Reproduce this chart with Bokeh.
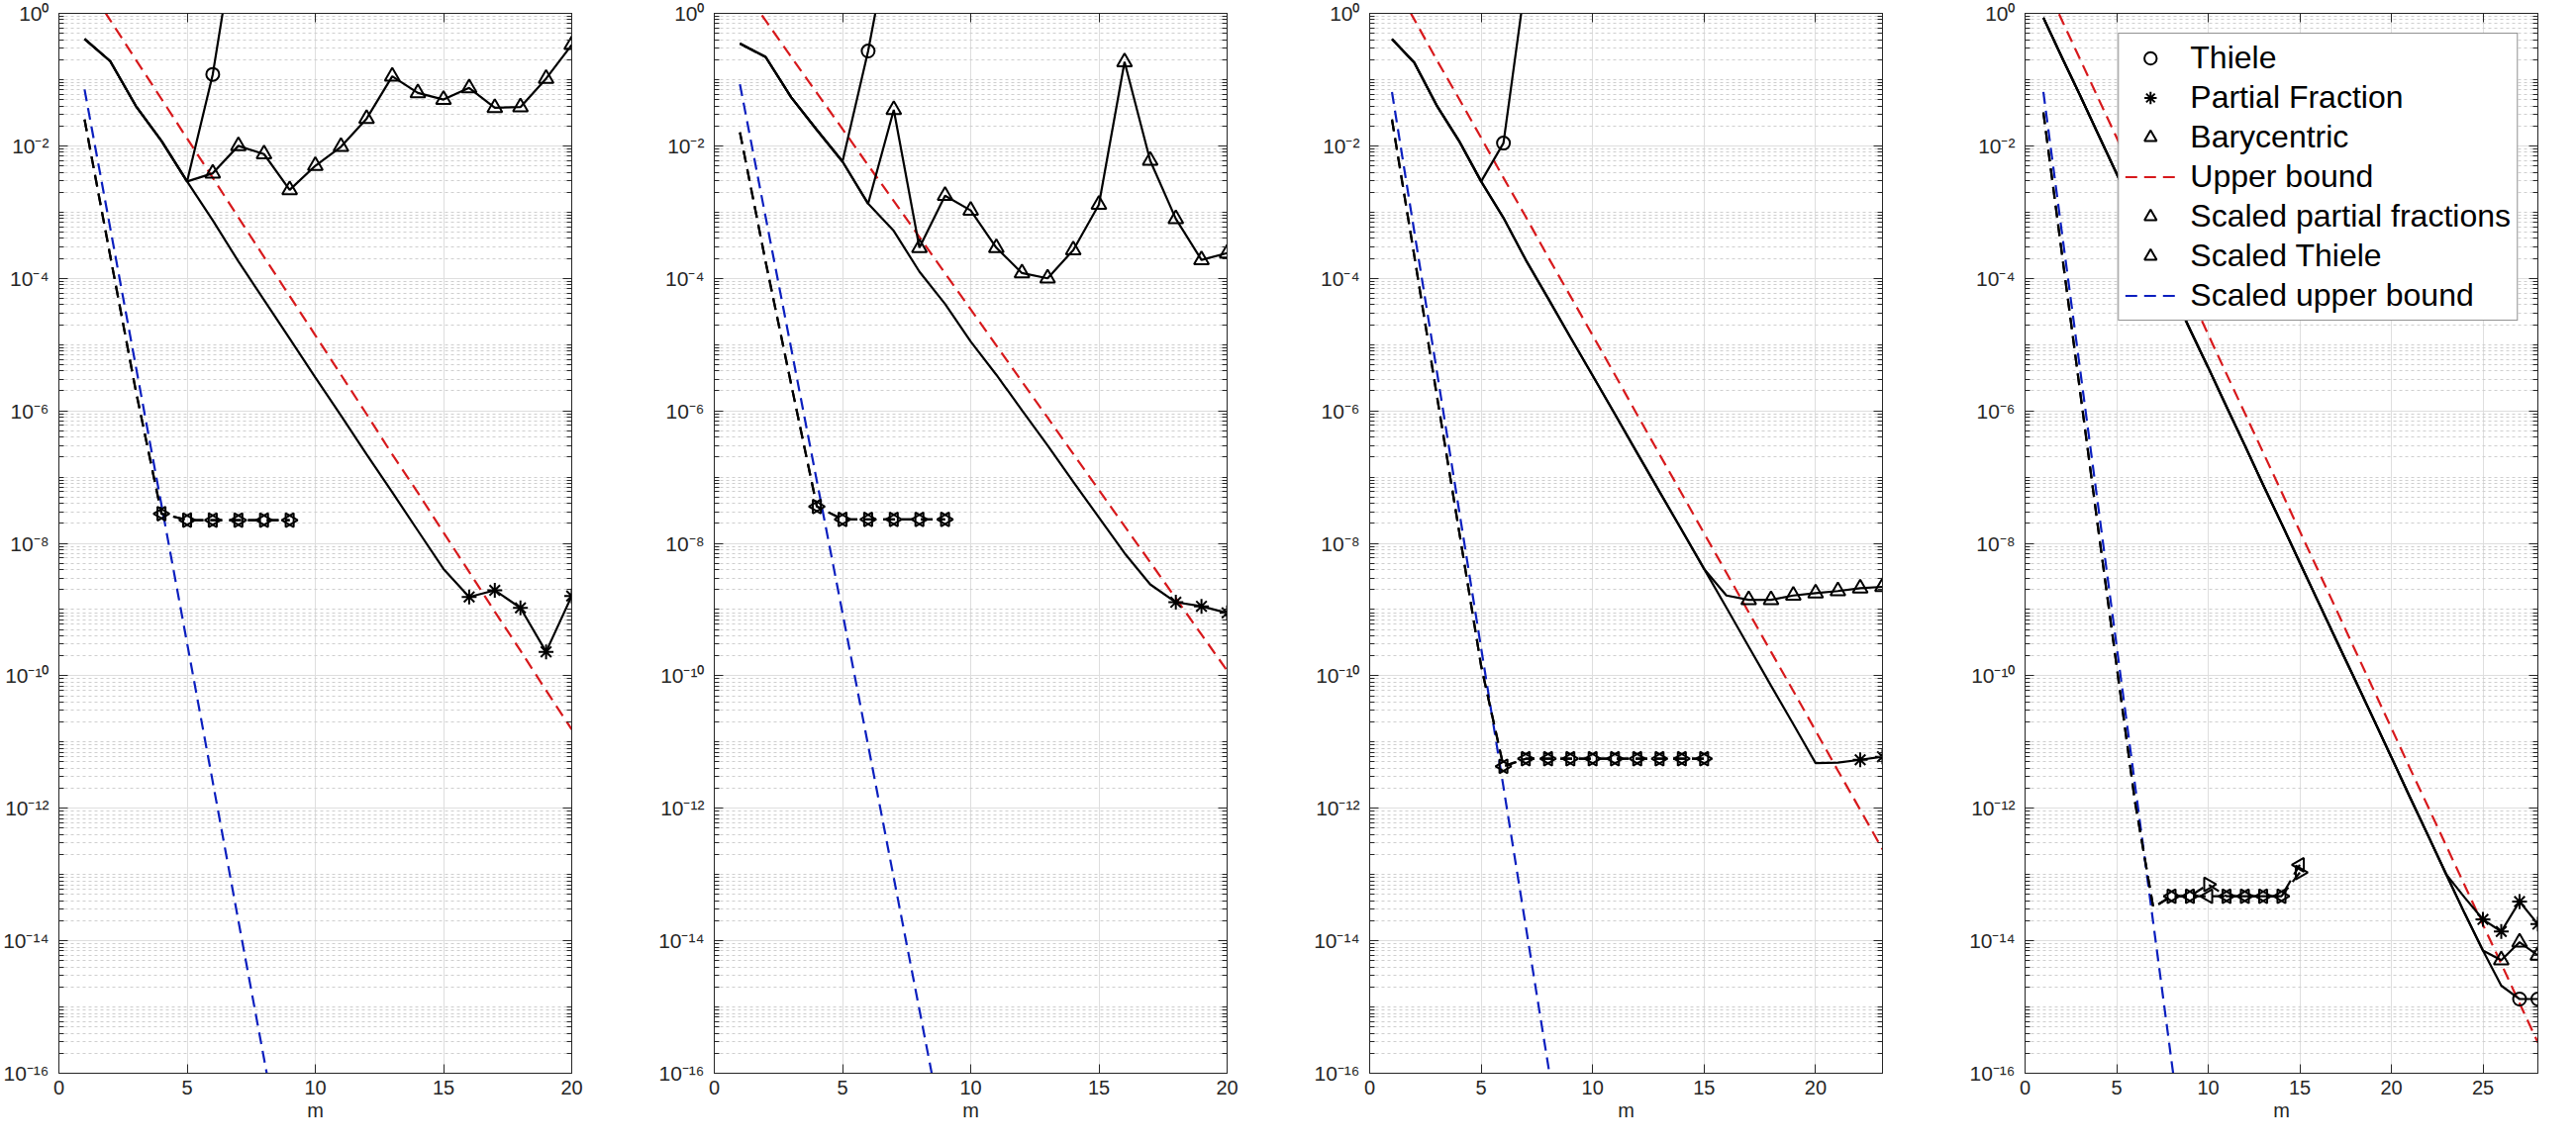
import math
from bokeh.plotting import figure
from bokeh.models import (FixedTicker, LogAxis, LinearAxis, CustomJSTickFormatter,
                          Legend, LegendItem, Range1d)
from bokeh.layouts import row
from bokeh.embed import file_html
from bokeh.resources import INLINE

# ---------------- data ----------------
# Panel 1
p1_m = list(range(1, 21))
p1_pf = [0.41, 0.19, 4.0e-2, 1.19e-2, 2.9e-3, 7.5e-4, 1.8e-4, 4.7e-5, 1.23e-5, 3.2e-6,
         8.5e-7, 2.2e-7, 5.9e-8, 1.55e-8, 4.1e-9, 1.55e-9, 1.95e-9, 1.06e-9, 2.3e-10, 1.6e-9]
p1_bary = [0.41, 0.19, 4.0e-2, 1.19e-2, 2.9e-3, 3.85e-3, 1.0e-2, 7.5e-3, 2.16e-3, 5.0e-3,
           9.7e-3, 2.57e-2, 0.112, 6.3e-2, 5.0e-2, 7.5e-2, 3.76e-2, 3.85e-2, 0.1035, 0.335]
p1_thiele_m = [1, 2, 3, 4, 5, 6, 7]
p1_thiele = [0.41, 0.19, 4.0e-2, 1.19e-2, 2.9e-3, 0.12, 30.0]
p1_ub = [3.1, 0.79, 0.20, 5.1e-2, 1.29e-2, 3.3e-3, 8.3e-4, 2.1e-4, 5.4e-5, 1.38e-5,
         3.5e-6, 8.9e-7, 2.2e-7, 5.8e-8, 1.45e-8, 3.7e-9, 9.3e-10, 2.4e-10, 6.0e-11, 1.55e-11]
p1_sub_m = [1, 2, 3, 4, 5, 6, 7, 8, 9]
p1_sub = [7.1e-2, 5.8e-4, 4.7e-6, 3.8e-8, 3.1e-10, 2.5e-12, 2.0e-14, 1.66e-16, 1.35e-18]
p1_sc_m = [1, 2, 3, 4, 5, 6, 7, 8, 9]
p1_spf = [2.5e-2, 2.2e-4, 2.0e-6, 2.8e-8, 2.24e-8, 2.24e-8, 2.24e-8, 2.24e-8, 2.24e-8]
p1_sth = [2.5e-2, 2.2e-4, 2.0e-6, 2.8e-8, 2.24e-8, 2.24e-8, 2.24e-8, 2.24e-8, 2.24e-8]
p1_mk_thiele = [6]
p1_mk_pf = [16, 17, 18, 19, 20]
p1_mk_bary = list(range(6, 21))
p1_mk_sc = [4, 5, 6, 7, 8, 9]

# Panel 2
p2_m = list(range(1, 21))
p2_pf = [0.35, 0.22, 5.4e-2, 1.74e-2, 5.8e-3, 1.34e-3, 5.2e-4, 1.26e-4, 4.1e-5, 1.11e-5,
         3.5e-6, 1.02e-6, 3.0e-7, 8.5e-8, 2.45e-8, 7.1e-9, 2.4e-9, 1.29e-9, 1.12e-9, 8.9e-10]
p2_bary = [0.35, 0.22, 5.4e-2, 1.74e-2, 5.8e-3, 1.34e-3, 3.5e-2, 2.9e-4, 1.77e-3, 1.06e-3,
           2.9e-4, 1.2e-4, 1.0e-4, 2.67e-4, 1.3e-3, 0.185, 6.0e-3, 7.9e-4, 1.9e-4, 2.4e-4]
p2_thiele_m = [1, 2, 3, 4, 5, 6, 7]
p2_thiele = [0.35, 0.22, 5.4e-2, 1.74e-2, 5.8e-3, 0.27, 30.0]
p2_ub = [2.7, 0.78, 0.22, 6.3e-2, 1.8e-2, 5.1e-3, 1.47e-3, 4.2e-4, 1.19e-4, 3.4e-5,
         9.7e-6, 2.76e-6, 7.9e-7, 2.24e-7, 6.4e-8, 1.82e-8, 5.2e-9, 1.48e-9, 4.2e-10, 1.2e-10]
p2_sub_m = [1, 2, 3, 4, 5, 6, 7, 8, 9]
p2_sub = [8.5e-2, 8.5e-4, 8.7e-6, 8.7e-8, 8.9e-10, 8.9e-12, 8.9e-14, 9.1e-16, 9.1e-18]
p2_sc_m = [1, 2, 3, 4, 5, 6, 7, 8, 9]
p2_spf = [1.6e-2, 1.8e-4, 2.5e-6, 3.6e-8, 2.3e-8, 2.3e-8, 2.3e-8, 2.3e-8, 2.3e-8]
p2_sth = [1.6e-2, 1.8e-4, 2.5e-6, 3.6e-8, 2.3e-8, 2.3e-8, 2.3e-8, 2.3e-8, 2.3e-8]
p2_mk_thiele = [6]
p2_mk_pf = [18, 19, 20]
p2_mk_bary = list(range(7, 21))
p2_mk_sc = [4, 5, 6, 7, 8, 9]

# Panel 3
p3_m = list(range(1, 24))
p3_pf = [0.41, 0.18, 4.1e-2, 1.2e-2, 2.9e-3, 8.2e-4, 1.9e-4, 5.0e-5, 1.29e-5, 3.4e-6,
         8.9e-7, 2.3e-7, 6.0e-8, 1.58e-8, 4.1e-9, 1.07e-9, 2.75e-10, 7.1e-11, 1.86e-11,
         4.8e-12, 4.9e-12, 5.4e-12, 6.0e-12]
p3_bary = [0.41, 0.18, 4.1e-2, 1.2e-2, 2.9e-3, 8.2e-4, 1.9e-4, 5.0e-5, 1.29e-5, 3.4e-6,
           8.9e-7, 2.3e-7, 6.0e-8, 1.58e-8, 4.1e-9, 1.63e-9, 1.4e-9, 1.4e-9, 1.63e-9,
           1.77e-9, 1.9e-9, 2.1e-9, 2.2e-9]
p3_thiele_m = [1, 2, 3, 4, 5, 6, 7]
p3_thiele = [0.41, 0.18, 4.1e-2, 1.2e-2, 2.9e-3, 1.1e-2, 3.2]
p3_ub = [3.2, 0.81, 0.20, 5.2e-2, 1.32e-2, 3.3e-3, 8.5e-4, 2.1e-4, 5.4e-5, 1.38e-5,
         3.5e-6, 8.7e-7, 2.2e-7, 5.6e-8, 1.41e-8, 3.6e-9, 9.1e-10, 2.3e-10, 5.9e-11,
         1.48e-11, 3.7e-12, 9.5e-13, 2.4e-13]
p3_sub_m = [1, 2, 3, 4, 5, 6, 7, 8, 9]
p3_sub = [6.5e-2, 5.1e-4, 4.2e-6, 3.3e-8, 2.6e-10, 2.1e-12, 1.66e-14, 1.35e-16, 1.07e-18]
p3_sc_m = list(range(1, 16))
p3_spf = [2.5e-2, 2.2e-4, 1.8e-6, 1.6e-8, 1.4e-10, 4.3e-12, 5.6e-12, 5.6e-12, 5.6e-12,
          5.6e-12, 5.6e-12, 5.6e-12, 5.6e-12, 5.6e-12, 5.6e-12]
p3_sth = [2.5e-2, 2.2e-4, 1.8e-6, 1.6e-8, 1.4e-10, 4.3e-12, 5.6e-12, 5.6e-12, 5.6e-12,
          5.6e-12, 5.6e-12, 5.6e-12, 5.6e-12, 5.6e-12, 5.6e-12]
p3_mk_thiele = [6]
p3_mk_pf = [22, 23]
p3_mk_bary = list(range(17, 24))
p3_mk_sc = list(range(6, 16))

# Panel 4
p4_m = list(range(1, 29))
p4_pf = [0.86, 0.22, 5.8e-2, 1.48e-2, 3.8e-3, 1.0e-3, 2.6e-4, 6.6e-5, 1.7e-5, 4.5e-6,
         1.15e-6, 3.0e-7, 7.6e-8, 2.0e-8, 5.1e-9, 1.32e-9, 3.4e-10, 8.9e-11, 2.3e-11,
         5.9e-12, 1.5e-12, 3.9e-13, 1.0e-13, 4.5e-14, 2.1e-14, 1.38e-14, 3.9e-14, 1.78e-14]
p4_bary = [0.86, 0.22, 5.8e-2, 1.48e-2, 3.8e-3, 1.0e-3, 2.6e-4, 6.6e-5, 1.7e-5, 4.5e-6,
           1.15e-6, 3.0e-7, 7.6e-8, 2.0e-8, 5.1e-9, 1.32e-9, 3.4e-10, 8.9e-11, 2.3e-11,
           5.9e-12, 1.5e-12, 3.9e-13, 1.0e-13, 2.6e-14, 7.1e-15, 5.1e-15, 9.5e-15, 6.0e-15]
p4_thiele_m = list(range(1, 29))
p4_thiele = [0.86, 0.22, 5.8e-2, 1.48e-2, 3.8e-3, 1.0e-3, 2.6e-4, 6.6e-5, 1.7e-5, 4.5e-6,
             1.15e-6, 3.0e-7, 7.6e-8, 2.0e-8, 5.1e-9, 1.32e-9, 3.4e-10, 8.9e-11, 2.3e-11,
             5.9e-12, 1.5e-12, 3.9e-13, 1.0e-13, 2.6e-14, 7.1e-15, 2.1e-15, 1.32e-15, 1.32e-15]
p4_ub = [3.2, 0.80, 0.204, 5.2e-2, 1.33e-2, 3.4e-3, 8.6e-4, 2.2e-4, 5.6e-5, 1.42e-5,
         3.6e-6, 9.2e-7, 2.35e-7, 6.0e-8, 1.52e-8, 3.9e-9, 9.9e-10, 2.5e-10, 6.4e-11,
         1.63e-11, 4.1e-12, 1.06e-12, 2.7e-13, 6.9e-14, 1.75e-14, 4.5e-15, 1.14e-15, 2.9e-16]
p4_sub_m = [1, 2, 3, 4, 5, 6, 7, 8, 9]
p4_sub = [6.5e-2, 5.2e-4, 4.3e-6, 3.5e-8, 2.8e-10, 2.3e-12, 1.86e-14, 1.5e-16, 1.26e-18]
p4_sc_m = list(range(1, 16))
p4_spf = [3.2e-2, 2.5e-4, 2.0e-6, 1.6e-8, 1.4e-10, 1.26e-12, 3.2e-14, 4.7e-14, 4.7e-14,
          7.1e-14, 4.7e-14, 4.7e-14, 4.7e-14, 4.7e-14, 1.07e-13]
p4_sth = [3.2e-2, 2.5e-4, 2.0e-6, 1.6e-8, 1.4e-10, 1.26e-12, 3.2e-14, 4.7e-14, 4.7e-14,
          4.7e-14, 4.7e-14, 4.7e-14, 4.7e-14, 4.7e-14, 1.4e-13]
p4_mk_thiele = [27, 28]
p4_mk_pf = [25, 26, 27, 28]
p4_mk_bary = [26, 27, 28]
p4_mk_sc = list(range(8, 16))

x_ticks_20 = [0, 5, 10, 15, 20]
x_ticks_28 = [0, 5, 10, 15, 20, 25]
legend_labels = ["Thiele", "Partial Fraction", "Barycentric", "Upper bound",
                 "Scaled partial fractions", "Scaled Thiele", "Scaled upper bound"]

panels = [
    dict(xmax=20, xt=x_ticks_20, m=p1_m, pf=p1_pf, bary=p1_bary, th_m=p1_thiele_m, th=p1_thiele,
         ub=p1_ub, sub_m=p1_sub_m, sub=p1_sub, sc_m=p1_sc_m, spf=p1_spf, sth=p1_sth,
         mk_th=p1_mk_thiele, mk_pf=p1_mk_pf, mk_bary=p1_mk_bary, mk_sc=p1_mk_sc),
    dict(xmax=20, xt=x_ticks_20, m=p2_m, pf=p2_pf, bary=p2_bary, th_m=p2_thiele_m, th=p2_thiele,
         ub=p2_ub, sub_m=p2_sub_m, sub=p2_sub, sc_m=p2_sc_m, spf=p2_spf, sth=p2_sth,
         mk_th=p2_mk_thiele, mk_pf=p2_mk_pf, mk_bary=p2_mk_bary, mk_sc=p2_mk_sc),
    dict(xmax=23, xt=x_ticks_20, m=p3_m, pf=p3_pf, bary=p3_bary, th_m=p3_thiele_m, th=p3_thiele,
         ub=p3_ub, sub_m=p3_sub_m, sub=p3_sub, sc_m=p3_sc_m, spf=p3_spf, sth=p3_sth,
         mk_th=p3_mk_thiele, mk_pf=p3_mk_pf, mk_bary=p3_mk_bary, mk_sc=p3_mk_sc),
    dict(xmax=28, xt=x_ticks_28, m=p4_m, pf=p4_pf, bary=p4_bary, th_m=p4_thiele_m, th=p4_thiele,
         ub=p4_ub, sub_m=p4_sub_m, sub=p4_sub, sc_m=p4_sc_m, spf=p4_spf, sth=p4_sth,
         mk_th=p4_mk_thiele, mk_pf=p4_mk_pf, mk_bary=p4_mk_bary, mk_sc=p4_mk_sc),
]

# ---------------- styling ----------------
FONT = "Liberation Sans"
AXC = "#262626"
GRID = "#dedede"
MINOR = "#cfcfcf"
LW = 2.2
DASH = "12 7"

y_major = [10.0 ** (-k) for k in range(0, 17, 2)]
y_minor = [j * 10.0 ** (-k) for k in range(1, 17) for j in range(1, 10)
           if not (j == 1 and k % 2 == 0)]

sup_fmt = CustomJSTickFormatter(code="""
const sup = {"-":"\u207b","0":"\u2070","1":"\u00b9","2":"\u00b2","3":"\u00b3","4":"\u2074",
             "5":"\u2075","6":"\u2076","7":"\u2077","8":"\u2078","9":"\u2079"};
const e = Math.round(Math.log10(tick));
return "10" + String(e).split("").map(c => sup[c]).join("");
""")


def style_axis(ax, labels):
    ax.axis_line_color = AXC
    ax.axis_line_width = 1
    ax.major_tick_line_color = AXC
    ax.minor_tick_line_color = AXC
    ax.major_tick_in = 9
    ax.major_tick_out = 0
    ax.minor_tick_in = 5
    ax.minor_tick_out = 0
    if labels:
        ax.major_label_text_font = FONT
        ax.major_label_text_color = AXC
    else:
        ax.major_label_text_font_size = "0px"
        ax.major_label_text_color = None
        ax.major_label_standoff = 0


def pick(ms, vals, keys):
    return [vals[ms.index(k)] for k in keys]


figs = []
for i, d in enumerate(panels):
    last = i == len(panels) - 1
    p = figure(x_range=Range1d(0, d["xmax"]), y_range=Range1d(1e-16, 1.0),
               y_axis_type="log", frame_width=518, frame_height=1071,
               min_border_left=59, min_border_right=(22 if last else 85),
               min_border_top=13, min_border_bottom=56,
               output_backend="svg", toolbar_location=None)
    p.background_fill_color = "white"
    p.border_fill_color = "white"
    p.outline_line_color = AXC

    xt = FixedTicker(ticks=d["xt"], minor_ticks=[])
    yt = FixedTicker(ticks=y_major, minor_ticks=y_minor)

    bx = p.xaxis[0]
    bx.ticker = xt
    style_axis(bx, True)
    bx.major_label_text_font_size = "20px"
    bx.major_label_standoff = 7
    bx.axis_label = "m"
    bx.axis_label_text_font = FONT
    bx.axis_label_text_font_size = "20px"
    bx.axis_label_text_font_style = "normal"
    bx.axis_label_text_color = AXC
    bx.axis_label_standoff = 2

    ly = p.yaxis[0]
    ly.ticker = yt
    ly.formatter = sup_fmt
    style_axis(ly, True)
    ly.major_label_text_font_size = "21px"
    ly.major_label_standoff = 10

    tx = LinearAxis(ticker=FixedTicker(ticks=d["xt"], minor_ticks=[]))
    style_axis(tx, False)
    p.add_layout(tx, "above")
    ry = LogAxis(ticker=FixedTicker(ticks=y_major, minor_ticks=y_minor))
    style_axis(ry, False)
    p.add_layout(ry, "right")

    p.xgrid.ticker = xt
    p.xgrid.grid_line_color = GRID
    p.ygrid.ticker = yt
    p.ygrid.grid_line_color = GRID
    p.ygrid.minor_grid_line_color = MINOR
    p.ygrid.minor_grid_line_dash = "3 3"

    # bounds
    r_ub = p.line(d["m"], d["ub"], line_color="#d7191c", line_width=LW, line_dash=DASH)
    r_sub = p.line(d["sub_m"], d["sub"], line_color="#0b1fbf", line_width=LW, line_dash=DASH)
    # scaled methods (black dashed)
    p.line(d["sc_m"], d["spf"], line_color="black", line_width=LW, line_dash=DASH)
    p.line(d["sc_m"], d["sth"], line_color="black", line_width=LW, line_dash=DASH)
    # methods (black solid)
    p.line(d["m"], d["pf"], line_color="black", line_width=LW)
    p.line(d["m"], d["bary"], line_color="black", line_width=LW)
    p.line(d["th_m"], d["th"], line_color="black", line_width=LW)

    # markers
    r_th = p.scatter(d["mk_th"], pick(d["th_m"], d["th"], d["mk_th"]), marker="circle",
                     size=13, fill_color=None, line_color="black", line_width=2)
    r_pf = p.scatter(d["mk_pf"], pick(d["m"], d["pf"], d["mk_pf"]), marker="asterisk",
                     size=15, line_color="black", line_width=2)
    r_ba = p.scatter(d["mk_bary"], pick(d["m"], d["bary"], d["mk_bary"]), marker="triangle",
                     size=15, fill_color=None, line_color="black", line_width=2)
    r_spf = p.scatter(d["mk_sc"], pick(d["sc_m"], d["spf"], d["mk_sc"]), marker="triangle",
                      angle=-math.pi / 2, size=14, fill_color=None, line_color="black", line_width=2)
    r_sth = p.scatter(d["mk_sc"], pick(d["sc_m"], d["sth"], d["mk_sc"]), marker="triangle",
                      angle=math.pi / 2, size=14, fill_color=None, line_color="black", line_width=2)

    if last:
        rends = [r_th, r_pf, r_ba, r_ub, r_spf, r_sth, r_sub]
        items = [LegendItem(label=lab, renderers=[r]) for lab, r in zip(legend_labels, rends)]
        leg = Legend(items=items, location="top_right")
        leg.label_text_font = FONT
        leg.label_text_font_size = "32px"
        leg.label_text_color = "black"
        leg.glyph_width = 51
        leg.glyph_height = 31
        leg.label_height = 33
        leg.label_standoff = 15
        leg.spacing = 3
        leg.padding = 6
        leg.margin = 20
        leg.border_line_color = AXC
        leg.border_line_width = 1
        leg.background_fill_color = "white"
        leg.background_fill_alpha = 1.0
        p.add_layout(leg)
    figs.append(p)

layout = row(*figs)
open("out.html", "w").write(file_html(layout, INLINE))
